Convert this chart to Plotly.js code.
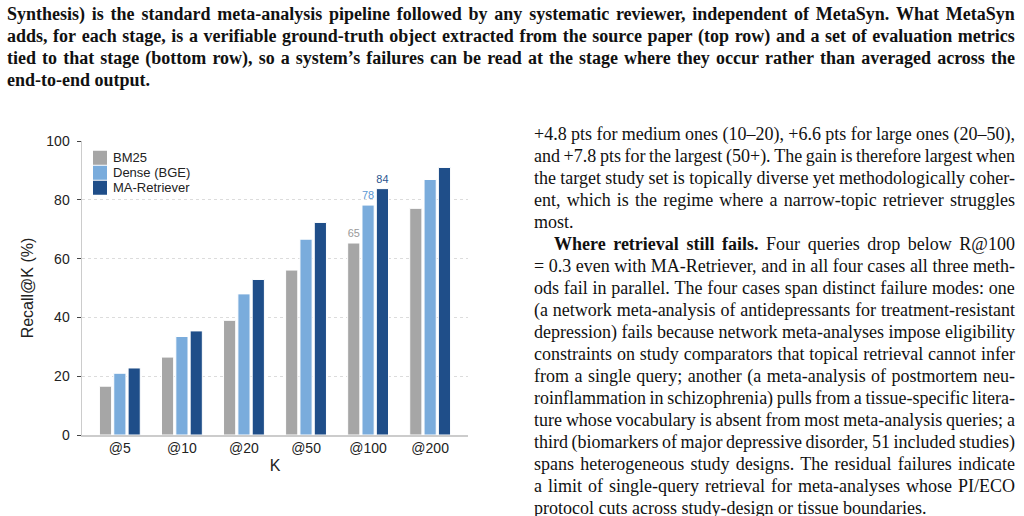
<!DOCTYPE html>
<html>
<head>
<meta charset="utf-8">
<script src="https://cdn.plot.ly/plotly-3.0.1.min.js"></script>
<style>
  html, body { margin: 0; padding: 0; background: #ffffff; }
  body { width: 1024px; height: 516px; overflow: hidden; position: relative; }
  .txt { position: absolute; font-family: "Liberation Serif", "Times New Roman", serif; color: #111; }
  .cap { left: 7px; top: 2.5px; width: 1008px; font-size: 18px; font-weight: bold; }
  .col { left: 534px; top: 123.2px; width: 481px; font-size: 18px; }
  .ln { display: flex; justify-content: space-between; white-space: nowrap; }
  .ln.last { justify-content: flex-start; }
  .ln.last span { margin-right: 0.25em; }
  .ln span { flex-shrink: 0; }
  .cap .ln { height: 22px; line-height: 22px; }
  .col .ln { height: 22px; line-height: 22px; }
  #chart { position: absolute; left: 0; top: 110px; width: 500px; height: 406px; }
</style>
</head>
<body>
<div class="txt cap" id="cap"></div>
<div class="txt col" id="col"></div>
<div id="chart"></div>
<script>
// ---- chart data ----
const categories = ['@5', '@10', '@20', '@50', '@100', '@200'];
const bm25 = [16.6, 26.5, 39.0, 56.1, 65.3, 77.1];
const dense = [21.0, 33.5, 48.0, 66.6, 78.2, 86.9];
const maRetriever = [22.8, 35.4, 52.9, 72.3, 83.8, 91.0];
const seriesNames = ['BM25', 'Dense (BGE)', 'MA-Retriever'];
const labeledCategory = '@100';
const yTickVals = [0, 20, 40, 60, 80, 100];

// ---- surrounding text ----
const captionLines = [
  'Synthesis) is the standard meta-analysis pipeline followed by any systematic reviewer, independent of MetaSyn. What MetaSyn',
  'adds, for each stage, is a verifiable ground-truth object extracted from the source paper (top row) and a set of evaluation metrics',
  'tied to that stage (bottom row), so a system\u2019s failures can be read at the stage where they occur rather than averaged across the',
  'end-to-end output.'
];
const para1 = [
  '+4.8 pts for medium ones (10\u201320), +6.6 pts for large ones (20\u201350),',
  'and +7.8 pts for the largest (50+). The gain is therefore largest when',
  'the target study set is topically diverse yet methodologically coher-',
  'ent, which is the regime where a narrow-topic retriever struggles',
  'most.'
];
const para2Bold = 'Where retrieval still fails.';
const para2 = [
  'Where retrieval still fails. Four queries drop below R@100',
  '= 0.3 even with MA-Retriever, and in all four cases all three meth-',
  'ods fail in parallel. The four cases span distinct failure modes: one',
  '(a network meta-analysis of antidepressants for treatment-resistant',
  'depression) fails because network meta-analyses impose eligibility',
  'constraints on study comparators that topical retrieval cannot infer',
  'from a single query; another (a meta-analysis of postmortem neu-',
  'roinflammation in schizophrenia) pulls from a tissue-specific litera-',
  'ture whose vocabulary is absent from most meta-analysis queries; a',
  'third (biomarkers of major depressive disorder, 51 included studies)',
  'spans heterogeneous study designs. The residual failures indicate',
  'a limit of single-query retrieval for meta-analyses whose PI/ECO',
  'protocol cuts across study-design or tissue boundaries.'
];

function addLines(container, lines, opts) {
  opts = opts || {};
  lines.forEach(function (line, i) {
    const div = document.createElement('div');
    div.className = 'ln' + (i === lines.length - 1 ? ' last' : '');
    if (i === 0 && opts.indent) div.style.paddingLeft = opts.indent + 'px';
    const words = line.split(' ');
    const boldCount = (i === 0 && opts.boldPrefix) ? opts.boldPrefix.split(' ').length : 0;
    words.forEach(function (w, k) {
      const s = document.createElement('span');
      s.textContent = w;
      if (k < boldCount) s.style.fontWeight = 'bold';
      div.appendChild(s);
    });
    container.appendChild(div);
  });
}
addLines(document.getElementById('cap'), captionLines);
const col = document.getElementById('col');
addLines(col, para1);
addLines(col, para2, { indent: 20, boldPrefix: para2Bold });

// ---- chart ----
const values = [bm25, dense, maRetriever];
const colors = ['#a6a6a6', '#7aacdc', '#1f4e89'];
const labelColors = ['#999999', '#5b97d2', '#2a558f'];

const traces = values.map(function (v, s) {
  return {
    type: 'bar',
    name: seriesNames[s],
    x: categories,
    y: v,
    marker: { color: colors[s], line: { color: '#ffffff', width: 1 } },
    text: categories.map(function (c, i) { return c === labeledCategory ? String(Math.round(v[i])) : ''; }),
    textposition: 'outside',
    textfont: { size: 12.5, color: labelColors[s], family: 'Liberation Sans, Arial, sans-serif' },
    cliponaxis: false,
    showlegend: false,
    hoverinfo: 'skip'
  };
});

const plotH = 294;
const legTop = 0.943, legStep = 15 / plotH, legHalf = 7 / plotH;
const shapes = seriesNames.map(function (n, i) {
  const yc = legTop - i * legStep;
  return { type: 'rect', xref: 'paper', yref: 'paper', x0: 0.0285, x1: 0.0648,
           y0: yc - legHalf, y1: yc + legHalf, fillcolor: colors[i], line: { width: 0 } };
});
const annotations = seriesNames.map(function (n, i) {
  const yc = legTop - i * legStep;
  return { xref: 'paper', yref: 'paper', x: 0.0751, y: yc, xanchor: 'left', yanchor: 'middle',
           text: n, showarrow: false, font: { size: 13, color: '#222' } };
});

const layout = {
  width: 500, height: 406,
  margin: { l: 82, r: 32, t: 31, b: 81 },
  paper_bgcolor: '#ffffff', plot_bgcolor: '#ffffff',
  font: { family: 'Liberation Sans, Arial, sans-serif', color: '#222', size: 14 },
  barmode: 'group', bargap: 0.307, bargroupgap: 0.15,
  showlegend: false,
  xaxis: {
    type: 'category', range: [-0.61, 5.61],
    showline: true, linecolor: '#cccccc', linewidth: 1.5,
    ticks: '', showgrid: false, zeroline: false,
    tickfont: { size: 14, color: '#222' },
    title: { text: 'K', font: { size: 16, color: '#222' }, standoff: 4 }
  },
  yaxis: {
    range: [0, 100], tickvals: yTickVals, ticktext: yTickVals.map(String),
    showline: true, linecolor: '#cccccc', linewidth: 1.5,
    ticks: 'outside', ticklen: 4, tickwidth: 1, tickcolor: '#444',
    showgrid: true, gridcolor: '#dcdcdc', griddash: 'dot', gridwidth: 1,
    zeroline: false, ticklabelstandoff: 4,
    tickfont: { size: 14, color: '#222' },
    title: { text: 'Recall@K (%)', font: { size: 16, color: '#222' }, standoff: 8 }
  },
  shapes: shapes,
  annotations: annotations
};

Plotly.newPlot('chart', traces, layout, { staticPlot: true, displayModeBar: false });
</script>
</body>
</html>
